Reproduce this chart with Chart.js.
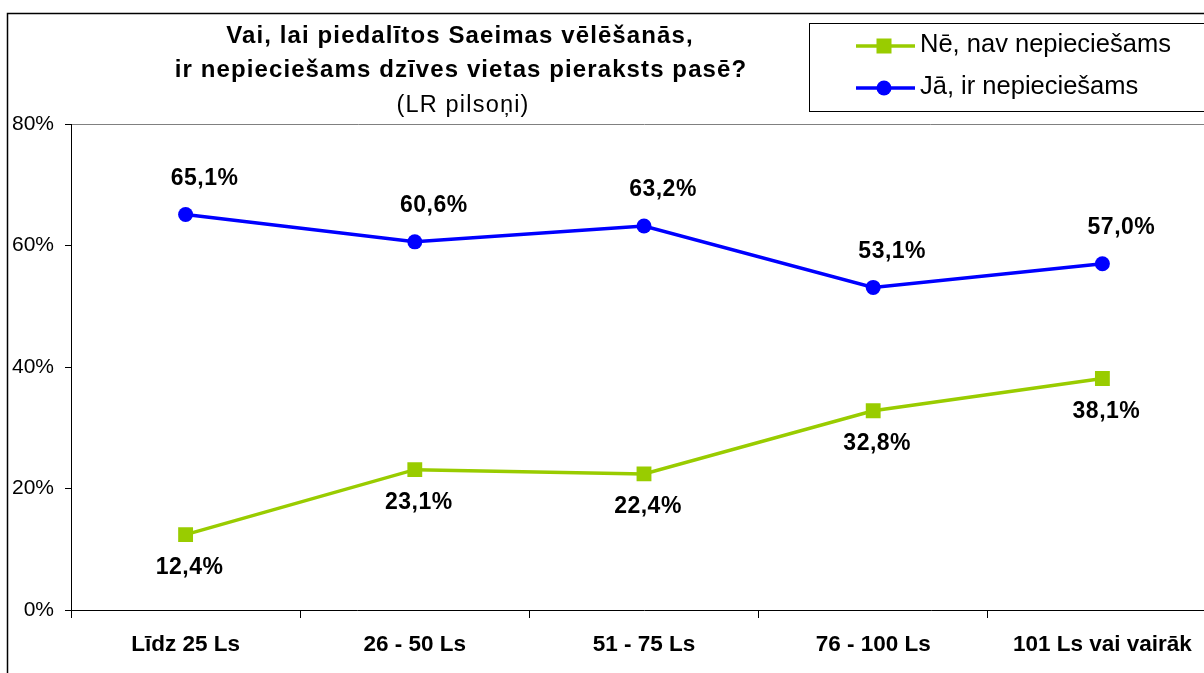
<!DOCTYPE html>
<html>
<head>
<meta charset="utf-8">
<script src="https://cdn.jsdelivr.net/npm/chart.js@4"></script>
<style>
  html, body { margin: 0; padding: 0; background: #fff; overflow: hidden; }
  #wrap { position: relative; width: 1230px; height: 673px; }
</style>
</head>
<body>
<div id="wrap"><canvas id="income-chart"></canvas></div>
<script>
const categories = ["Līdz 25 Ls", "26 - 50 Ls", "51 - 75 Ls", "76 - 100 Ls", "101 Ls vai vairāk"];
const noValues = [12.4, 23.1, 22.4, 32.8, 38.1];
const yesValues = [65.1, 60.6, 63.2, 53.1, 57.0];
const yTicks = [0, 20, 40, 60, 80];
const titleLines = ["Vai, lai piedalītos Saeimas vēlēšanās,", "ir nepieciešams dzīves vietas pieraksts pasē?", "(LR pilsoņi)"];

const FONT = "'Liberation Sans', Arial, sans-serif";
const GREEN = "#99CC00";
const BLUE = "#0000FF";

const fmt = (v) => v.toFixed(1).replace(".", ",") + "%";

// frame, title, legend box and point labels
const decorations = {
  id: "decorations",
  afterDraw(chart) {
    const c = chart.ctx;
    c.save();
    // outer chart frame
    c.strokeStyle = "#000";
    c.lineWidth = 1.5;
    c.strokeRect(7.5, 13.5, 1400, 800);

    // title
    c.fillStyle = "#000";
    c.textAlign = "center";
    c.textBaseline = "alphabetic";
    c.letterSpacing = "1.1px";
    c.font = "bold 24px " + FONT;
    c.fillText(titleLines[0], 460, 43);
    c.fillText(titleLines[1], 461, 77);
    c.letterSpacing = "1.2px";
    c.font = "23.5px " + FONT;
    c.fillText(titleLines[2], 463, 112);
    c.letterSpacing = "0px";

    // legend
    c.lineWidth = 1;
    c.strokeRect(809.5, 23.5, 500, 88);
    const rows = [
      { ds: chart.data.datasets[0], y: 46 },
      { ds: chart.data.datasets[1], y: 88 },
    ];
    rows.forEach((r) => {
      c.strokeStyle = r.ds.borderColor;
      c.lineWidth = 3.5;
      c.beginPath();
      c.moveTo(856, r.y);
      c.lineTo(915, r.y);
      c.stroke();
      c.fillStyle = r.ds.borderColor;
      if (r.ds.pointStyle === "rect") {
        c.fillRect(884 - 7.5, r.y - 7.5, 15, 15);
      } else {
        c.beginPath();
        c.arc(884, r.y, 7.5, 0, Math.PI * 2);
        c.fill();
      }
      c.fillStyle = "#000";
      c.textAlign = "left";
      c.textBaseline = "middle";
      c.font = "25.5px " + FONT;
      c.fillText(r.ds.label, 920, r.y - 1);
    });

    // value labels
    c.font = "bold 23px " + FONT;
    c.letterSpacing = "0.5px";
    c.textAlign = "center";
    c.textBaseline = "middle";
    c.fillStyle = "#000";
    chart.data.datasets.forEach((ds, i) => {
      const meta = chart.getDatasetMeta(i);
      const above = ds.label.startsWith("Jā");
      const dx = above ? 19 : 4;
      const dy = above ? -36 : 33;
      meta.data.forEach((pt, j) => {
        c.fillText(fmt(ds.data[j]), pt.x + dx, pt.y + dy);
      });
    });
    c.restore();
  },
};

new Chart(document.getElementById("income-chart"), {
  type: "line",
  data: {
    labels: categories,
    datasets: [
      {
        label: "Nē, nav nepieciešams",
        data: noValues,
        borderColor: GREEN,
        backgroundColor: GREEN,
        borderWidth: 3.5,
        pointStyle: "rect",
        pointRadius: 10.5,
        pointBorderWidth: 0,
        tension: 0,
      },
      {
        label: "Jā, ir nepieciešams",
        data: yesValues,
        borderColor: BLUE,
        backgroundColor: BLUE,
        borderWidth: 3.5,
        pointStyle: "circle",
        pointRadius: 7.5,
        pointBorderWidth: 0,
        tension: 0,
      },
    ],
  },
  options: {
    responsive: true,
    maintainAspectRatio: false,
    animation: false,
    events: [],
    layout: { padding: { top: 124, right: 13, left: 0, bottom: 0 } },
    plugins: {
      legend: { display: false },
      title: { display: false },
      tooltip: { enabled: false },
    },
    scales: {
      x: {
        offset: true,
        grid: {
          offset: true,
          drawOnChartArea: false,
          tickLength: 8,
          tickColor: "#000",
        },
        border: { color: "#000", width: 1 },
        ticks: {
          color: "#000",
          padding: 13,
          font: { family: FONT, size: 22.5, weight: "bold" },
        },
        afterFit: (s) => { s.height = 63; },
      },
      y: {
        min: 0,
        max: 80,
        afterBuildTicks: (s) => { s.ticks = yTicks.map((v) => ({ value: v })); },
        grid: {
          color: (ctx) => (ctx.tick && ctx.tick.value === 80 ? "#808080" : "transparent"),
          tickLength: 6,
          tickColor: "#000",
        },
        border: { color: "#000", width: 1 },
        ticks: {
          color: "#000",
          padding: 11,
          font: { family: FONT, size: 21 },
          callback: (v) => v + "%",
        },
        afterFit: (s) => { s.width = 71; },
      },
    },
  },
  plugins: [decorations],
});
</script>
</body>
</html>
